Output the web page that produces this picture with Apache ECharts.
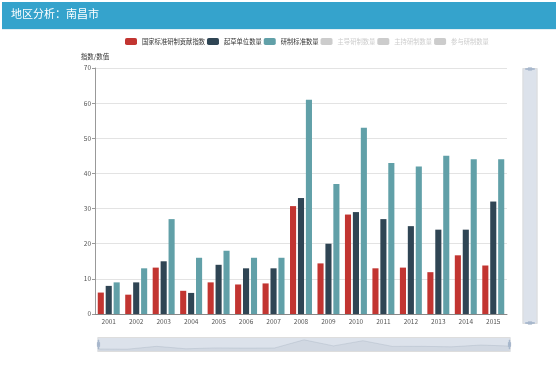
<!DOCTYPE html>
<html>
<head>
<meta charset="utf-8">
<script src="https://cdn.jsdelivr.net/npm/echarts@6/dist/echarts.min.js"></script>
<style>
html,body{margin:0;padding:0;background:#fff;}
#main{width:558px;height:375px;}
</style>
</head>
<body>
<div id="main"></div>
<script>
var titleText = '地区分析：南昌市';
var yAxisName = '指数/数值';
var years = ['2001','2002','2003','2004','2005','2006','2007','2008','2009','2010','2011','2012','2013','2014','2015'];
var seriesNames = ['国家标准研制贡献指数','起草单位数量','研制标准数量','主导研制数量','主持研制数量','参与研制数量'];
var contribIndex = [6.1, 5.5, 13.2, 6.6, 9.0, 8.4, 8.7, 30.7, 14.4, 28.3, 13.0, 13.2, 11.9, 16.7, 13.8];
var draftUnits = [8, 9, 15, 6, 14, 13, 13, 33, 20, 29, 27, 25, 24, 24, 32];
var standards = [9, 13, 27, 16, 18, 16, 16, 61, 37, 53, 43, 42, 45, 44, 44];
var leadCount = [];
var hostCount = [];
var joinCount = [];
var yMin = 0, yMax = 70, yInterval = 10;

var FONT = '"Noto Sans CJK SC", "Noto Sans", sans-serif';
var chart = echarts.init(document.getElementById('main'));
var handlePath = 'path://M8.2,13.6V3.9H6.3v9.7H3.1v14.9h3.3v9.7h1.8v-9.7h3.3V13.6H8.2z M9.7,24.4H4.8v-1.4h4.9V24.4z M9.7,19.1H4.8v-1.4h4.9V19.1z';
var seriesData = [contribIndex, draftUnits, standards, leadCount, hostCount, joinCount];
var colors = ['#c23531','#2f4554','#61a0a8','#d48265','#91c7ae','#749f83'];
var selected = {};
seriesNames.forEach(function(n, i){ selected[n] = i < 3; });

chart.setOption({
  animation: false,
  color: colors,
  textStyle: {fontFamily: FONT},
  graphic: [
    {type:'rect', left:2, top:2, shape:{width:554, height:27}, style:{fill:'#35a3cc'}, z:0},
    {type:'rect', left:2, top:29, shape:{width:554, height:1}, style:{fill:'#e3eef3'}, z:0},
    {type:'text', left:11, top:8, style:{text:titleText, fill:'#fff', font:'11px ' + FONT}, z:1}
  ],
  legend: {
    left: 120, top: 33,
    itemWidth: 12, itemHeight: 7, itemGap: 2,
    inactiveColor: '#ccc',
    selected: selected,
    textStyle: {fontSize: 6.3, color: '#333', fontFamily: FONT},
    data: seriesNames
  },
  grid: {left: 95, right: 51, top: 68, bottom: 61},
  xAxis: {
    type: 'category',
    data: years,
    axisLine: {lineStyle: {color: '#888', width: 1}},
    axisTick: {length: 3, lineStyle: {color: '#888'}},
    axisLabel: {fontSize: 6.5, color: '#555', margin: 4, fontFamily: FONT},
    splitLine: {show: false}
  },
  yAxis: {
    type: 'value',
    min: yMin, max: yMax, interval: yInterval,
    name: yAxisName,
    nameGap: 8,
    nameTextStyle: {fontSize: 6.5, color: '#333', fontFamily: FONT, align: 'center'},
    axisLine: {show: true, lineStyle: {color: '#999', width: 1}},
    axisTick: {show: true, length: 3, lineStyle: {color: '#999'}},
    axisLabel: {fontSize: 6.5, color: '#555', margin: 4, fontFamily: FONT},
    splitLine: {lineStyle: {color: '#e3e3e3'}}
  },
  dataZoom: [
    {
      type: 'slider', xAxisIndex: 0, start: 0, end: 100,
      left: 95, right: 50, bottom: 23, height: 15,
      backgroundColor: 'rgba(47,69,84,0)',
      fillerColor: 'rgba(167,183,204,0.4)',
      borderColor: '#ddd',
      showDetail: false, brushSelect: false, moveHandleSize: 0,
      handleIcon: handlePath, handleSize: '60%',
      handleStyle: {color: '#a7b7cc', borderColor: '#a7b7cc'},
      dataBackground: {
        lineStyle: {color: '#2f4554', width: 0.5, opacity: 0.3},
        areaStyle: {color: 'rgba(47,69,84,0.3)', opacity: 0.3}
      },
      selectedDataBackground: {
        lineStyle: {color: '#2f4554', width: 0.5, opacity: 0.3},
        areaStyle: {color: 'rgba(47,69,84,0.3)', opacity: 0.3}
      },
      textStyle: {color: 'transparent'}
    },
    {
      type: 'slider', yAxisIndex: 0, start: 0, end: 100, filterMode: 'empty',
      right: 21, width: 15, top: 68, bottom: 51,
      backgroundColor: 'rgba(47,69,84,0)',
      fillerColor: 'rgba(167,183,204,0.4)',
      borderColor: '#ddd',
      showDetail: false, brushSelect: false, moveHandleSize: 0,
      showDataShadow: false,
      handleIcon: handlePath, handleSize: '60%',
      handleStyle: {color: '#a7b7cc', borderColor: '#a7b7cc'},
      textStyle: {color: 'transparent'}
    }
  ],
  series: seriesNames.map(function(n, i){
    return {name: n, type: 'bar', data: seriesData[i], barGap: '30%', barCategoryGap: '20%'};
  })
});
</script>
</body>
</html>
